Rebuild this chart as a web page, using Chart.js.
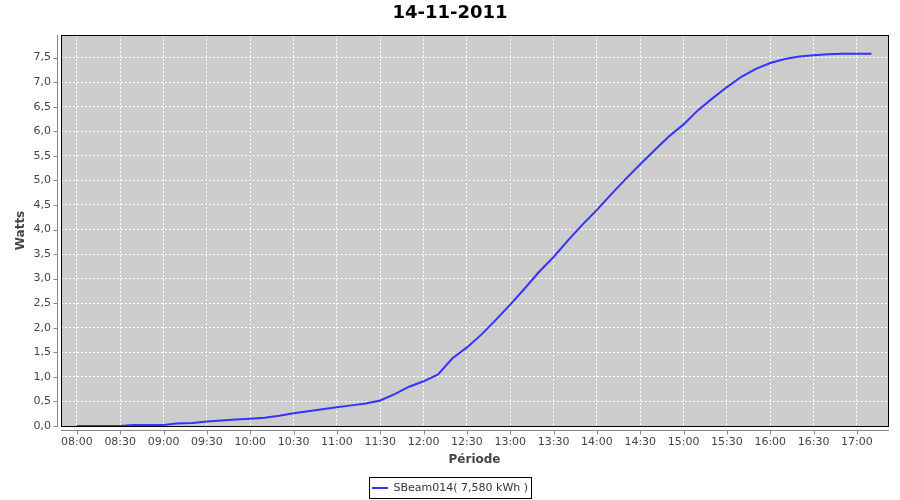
<!DOCTYPE html>
<html>
<head>
<meta charset="utf-8">
<script src="https://cdn.jsdelivr.net/npm/chart.js@4/dist/chart.umd.min.js"></script>
<style>
  body { margin: 0; background: #fff; }
</style>
</head>
<body>
<canvas id="chart" width="900" height="500"></canvas>
<script>
const chartTitle = '14-11-2011';
const seriesLabel = 'SBeam014( 7,580 kWh )';

const times = ['08:00','08:30','08:39','09:00','09:09','09:20','09:30','09:40','09:50','10:00',
  '10:10','10:20','10:30','10:40','10:50','11:00','11:10','11:20','11:30','11:40',
  '11:50','12:00','12:10','12:20','12:30','12:40','12:50','13:00','13:10','13:20',
  '13:30','13:40','13:50','14:00','14:10','14:20','14:30','14:40','14:50','15:00',
  '15:10','15:20','15:30','15:40','15:50','16:00','16:10','16:20','16:30','16:40',
  '16:50','17:00','17:10'];
const watts = [0.00, 0.00, 0.02, 0.02, 0.05, 0.06, 0.09, 0.11, 0.13, 0.15,
  0.17, 0.21, 0.26, 0.30, 0.34, 0.38, 0.42, 0.46, 0.52, 0.65,
  0.80, 0.91, 1.05, 1.38, 1.60, 1.86, 2.16, 2.47, 2.80, 3.14,
  3.44, 3.78, 4.10, 4.40, 4.72, 5.03, 5.33, 5.62, 5.90, 6.14,
  6.43, 6.67, 6.90, 7.11, 7.27, 7.39, 7.47, 7.52, 7.55, 7.57,
  7.58, 7.58, 7.58];

const xTickLabels = ['08:00','08:30','09:00','09:30','10:00','10:30','11:00','11:30','12:00','12:30',
  '13:00','13:30','14:00','14:30','15:00','15:30','16:00','16:30','17:00'];
const yTickValues = [0, 0.5, 1, 1.5, 2, 2.5, 3, 3.5, 4, 4.5, 5, 5.5, 6, 6.5, 7, 7.5];

function toMinutes(t){
  const p = t.split(':');
  return Number(p[0]) * 60 + Number(p[1]);
}

Chart.defaults.font.family = 'DejaVu Sans';

// gray plot background, black frame and JFreeChart-like offset axes
const plotFrame = {
  id: 'plotFrame',
  beforeDraw(chart){
    const {ctx, chartArea: a} = chart;
    ctx.save();
    ctx.fillStyle = '#cccccc';
    ctx.fillRect(a.left, a.top, a.right - a.left, a.bottom - a.top);
    ctx.restore();
  },
  beforeDatasetsDraw(chart){
    const {ctx, chartArea: a, scales} = chart;
    ctx.save();
    ctx.lineWidth = 1;
    ctx.strokeStyle = '#000';
    ctx.strokeRect(a.left + 0.5, a.top + 0.5, a.right - a.left, a.bottom - a.top);

    ctx.strokeStyle = '#888';
    ctx.beginPath();
    const ax = a.left - 3.5;
    ctx.moveTo(ax, a.top);
    ctx.lineTo(ax, a.bottom + 1);
    scales.y.ticks.forEach(t => {
      const py = Math.round(scales.y.getPixelForValue(t.value)) + 0.5;
      ctx.moveTo(ax - 4, py);
      ctx.lineTo(ax, py);
    });
    const ay = a.bottom + 4.5;
    ctx.moveTo(a.left, ay);
    ctx.lineTo(a.right + 1, ay);
    scales.x.ticks.forEach(t => {
      const px = Math.round(scales.x.getPixelForValue(t.value)) + 0.5;
      ctx.moveTo(px, ay);
      ctx.lineTo(px, ay + 4);
    });
    ctx.stroke();
    ctx.restore();
  },
  afterDraw(chart){
    const hb = chart.legend.legendHitBoxes[0];
    if (!hb) return;
    const {ctx} = chart;
    const cy = Math.round(hb.top + hb.height / 2);
    ctx.save();
    ctx.strokeStyle = '#000';
    ctx.lineWidth = 1;
    ctx.strokeRect(Math.round(hb.left) - 2.5, cy - 10.5, hb.width + 6, 21);
    ctx.restore();
  }
};

new Chart(document.getElementById('chart'), {
  type: 'line',
  data: {
    datasets: [{
      label: seriesLabel,
      data: times.map((t, i) => ({x: toMinutes(t), y: watts[i]})),
      borderColor: '#3333ff',
      backgroundColor: '#3333ff',
      borderWidth: 2,
      pointRadius: 0,
      tension: 0,
      fill: false
    }]
  },
  options: {
    responsive: false,
    animation: false,
    layout: {
      padding: {left: 0, right: 0, top: 0, bottom: -3.5}
    },
    plugins: {
      title: {
        display: true,
        text: chartTitle,
        color: '#000',
        font: {size: 18, weight: 'bold'},
        padding: {top: 3, bottom: 10.4}
      },
      legend: {
        position: 'bottom',
        labels: {
          usePointStyle: true,
          pointStyle: 'line',
          pointStyleWidth: 16,
          padding: 5,
          color: '#333',
          font: {size: 11}
        }
      },
      tooltip: {enabled: false}
    },
    scales: {
      x: {
        type: 'linear',
        min: 469,
        max: 1041.5,
        afterBuildTicks: scale => {
          scale.ticks = xTickLabels.map(t => ({value: toMinutes(t)}));
        },
        afterFit: scale => { scale.height = 51.5; },
        ticks: {
          autoSkip: false,
          maxRotation: 0,
          padding: 2,
          color: '#444',
          font: {size: 11},
          callback: (v, i) => xTickLabels[i]
        },
        grid: {
          color: '#ffffff',
          lineWidth: 1,
          tickLength: 8,
          tickColor: 'rgba(0,0,0,0)'
        },
        border: {display: false, dash: [2, 2]},
        title: {
          display: true,
          text: 'Période',
          color: '#444',
          font: {size: 12, weight: 'bold'},
          padding: {top: 0, bottom: 10.3}
        }
      },
      y: {
        min: 0,
        max: 7.96,
        afterBuildTicks: scale => {
          scale.ticks = yTickValues.map(v => ({value: v}));
        },
        afterFit: scale => { scale.width = 61; },
        ticks: {
          padding: 2,
          color: '#444',
          font: {size: 11},
          callback: v => v.toFixed(1).replace('.', ',')
        },
        grid: {
          color: '#ffffff',
          lineWidth: 1,
          tickLength: 8,
          tickColor: 'rgba(0,0,0,0)'
        },
        border: {display: false, dash: [2, 2]},
        title: {
          display: true,
          text: 'Watts',
          color: '#444',
          font: {size: 12, weight: 'bold'},
          padding: {top: 14, bottom: 0}
        }
      },
      // empty right margin so the title and legend centre on the full width
      yRight: {
        position: 'right',
        afterFit: scale => { scale.width = 12; },
        ticks: {display: false},
        grid: {display: false},
        border: {display: false}
      }
    }
  },
  plugins: [plotFrame]
});
</script>
</body>
</html>
